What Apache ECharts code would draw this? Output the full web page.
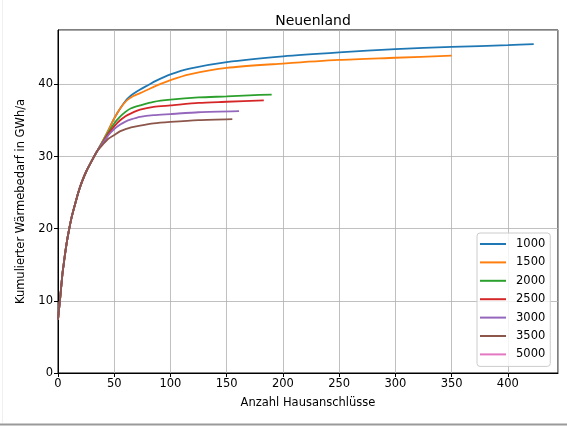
<!DOCTYPE html>
<html>
<head>
<meta charset="utf-8">
<script src="https://cdn.jsdelivr.net/npm/echarts@6/dist/echarts.min.js"></script>
<style>html,body{margin:0;padding:0;background:#fff}#c{width:567px;height:426px}</style>
</head>
<body>
<div id="c"></div>
<script>
const seriesNames = ['1000','1500','2000','2500','3000','3500','5000'];
const colors = ['#1f77b4','#ff7f0e','#2ca02c','#d62728','#9467bd','#8c564b','#e377c2'];

// shared start of all curves
const xStart = [0, 1, 2, 3, 4, 5, 6, 8, 10, 12, 15, 18, 21, 25, 30, 35];
const yStart = [7.4, 9.0, 10.5, 12.2, 13.8, 15.0, 16.2, 18.3, 20.0, 21.5, 23.3, 25.0, 26.4, 27.9, 29.4, 30.8];

const x1000 = [40, 45, 50, 55, 60, 63, 67, 73, 80, 87, 100, 117, 150, 200, 250, 300, 350, 400, 423];
const y1000 = [32.2, 33.7, 35.3, 36.6, 37.7, 38.2, 38.7, 39.3, 39.9, 40.5, 41.4, 42.2, 43.1, 43.9, 44.45, 44.9, 45.2, 45.45, 45.6];
const x1500 = [40, 45, 50, 55, 60, 63, 67, 73, 80, 87, 100, 117, 150, 200, 250, 300, 350];
const y1500 = [32.2, 33.7, 35.3, 36.6, 37.6, 38.0, 38.4, 38.8, 39.3, 39.8, 40.6, 41.4, 42.3, 42.9, 43.4, 43.7, 44.0];
const x2000 = [40, 45, 50, 55, 60, 65, 73, 85, 100, 125, 150, 170, 190];
const y2000 = [32.1, 33.4, 34.6, 35.5, 36.2, 36.7, 37.1, 37.6, 37.9, 38.2, 38.35, 38.5, 38.6];
const x2500 = [40, 45, 50, 55, 60, 65, 73, 85, 100, 125, 150, 183];
const y2500 = [32.0, 33.2, 34.2, 35.0, 35.6, 36.0, 36.5, 36.9, 37.1, 37.45, 37.6, 37.8];
const x3000 = [40, 45, 50, 55, 60, 65, 73, 85, 100, 125, 161];
const y3000 = [31.9, 33.0, 33.8, 34.4, 34.85, 35.15, 35.5, 35.75, 35.9, 36.15, 36.3];
const x3500 = [40, 45, 50, 55, 60, 65, 73, 85, 100, 125, 155];
const y3500 = [31.7, 32.5, 33.0, 33.5, 33.8, 34.05, 34.3, 34.6, 34.8, 35.05, 35.2];
const x5000 = [];
const y5000 = [];

const xTicks = [0, 50, 100, 150, 200, 250, 300, 350, 400];
const yTicks = [0, 10, 20, 30, 40];

function pairs(xs, ys, withStart) {
  const out = [];
  if (withStart) for (let i = 0; i < xStart.length; i++) out.push([xStart[i], yStart[i]]);
  for (let i = 0; i < xs.length; i++) out.push([xs[i], ys[i]]);
  return out;
}
const tails = [[x1000,y1000],[x1500,y1500],[x2000,y2000],[x2500,y2500],[x3000,y3000],[x3500,y3500],[x5000,y5000]];

const font = 'DejaVu Sans';
const chart = echarts.init(document.getElementById('c'), null, {renderer: 'canvas'});
chart.setOption({
  animation: false,
  backgroundColor: '#fff',
  title: {
    text: 'Neuenland', left: 308, top: 9, textAlign: 'center',
    textStyle: {fontFamily: font, fontSize: 14, fontWeight: 'normal', color: '#000'}
  },
  grid: {left: 58, right: 9, top: 30, bottom: 53, show: true, borderColor: '#000', borderWidth: 1, backgroundColor: 'transparent'},
  xAxis: {
    type: 'value', min: 0, max: 444.6, interval: 50,
    name: 'Anzahl Hausanschlüsse', nameLocation: 'middle', nameGap: 24,
    nameTextStyle: {fontFamily: font, fontSize: 11.5, color: '#000'},
    axisLine: {show: true, onZero: false, lineStyle: {color: '#000', width: 1}},
    axisTick: {show: true, length: 4, lineStyle: {color: '#000'}},
    axisLabel: {fontFamily: font, fontSize: 11.5, color: '#000', margin: 5, showMaxLabel: false,
      formatter: v => xTicks.includes(v) ? String(v) : ''},
    splitLine: {show: true, lineStyle: {color: '#b0b0b0', width: 0.8}}
  },
  yAxis: {
    type: 'value', min: 0, max: 47.55, interval: 10,
    name: 'Kumulierter Wärmebedarf in GWh/a', nameLocation: 'middle', nameGap: 30,
    nameTextStyle: {fontFamily: font, fontSize: 11.5, color: '#000'},
    axisLine: {show: true, onZero: false, lineStyle: {color: '#000', width: 1}},
    axisTick: {show: true, length: 4, lineStyle: {color: '#000'}},
    axisLabel: {fontFamily: font, fontSize: 11.5, color: '#000', margin: 5, showMaxLabel: false,
      formatter: v => yTicks.includes(v) ? String(v) : ''},
    splitLine: {show: true, lineStyle: {color: '#b0b0b0', width: 0.8}}
  },
  legend: {
    orient: 'vertical', left: 477, top: 233,
    data: seriesNames,
    icon: 'rect', itemWidth: 26, itemHeight: 2, itemGap: 4.4,
    padding: [4, 5, 5, 3],
    borderColor: '#cccccc', borderWidth: 1, borderRadius: 3,
    backgroundColor: 'rgba(255,255,255,0.8)',
    textStyle: {fontFamily: font, fontSize: 11.5, color: '#000', lineHeight: 14, padding: [0, 0, 0, 5]}
  },
  graphic: [
    {type: 'line', shape: {x1: 0, y1: 424.5, x2: 567, y2: 424.5}, style: {stroke: '#9a9a9a', lineWidth: 2}, silent: true},
    {type: 'line', shape: {x1: 2.5, y1: 0, x2: 2.5, y2: 423}, style: {stroke: '#f0f0f0', lineWidth: 1}, silent: true}
  ],
  series: seriesNames.map((n, i) => ({
    name: n, type: 'line', showSymbol: false, symbol: 'none',
    smooth: 0.25,
    data: pairs(tails[i][0], tails[i][1], tails[i][0].length > 0),
    lineStyle: {color: colors[i], width: 1.8},
    itemStyle: {color: colors[i]}
  }))
});
</script>
</body>
</html>
